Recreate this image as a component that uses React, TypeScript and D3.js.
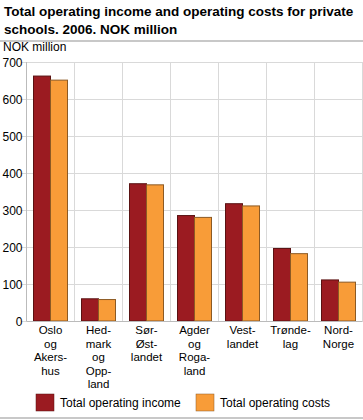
import React from "react";
import * as d3 from "d3";

const categories = [
  ["Oslo", "og", "Akers-", "hus"],
  ["Hed-", "mark", "og", "Opp-", "land"],
  ["Sør-", "Øst-", "landet"],
  ["Agder", "og", "Roga-", "land"],
  ["Vest-", "landet"],
  ["Trønde-", "lag"],
  ["Nord-", "Norge"],
];
const income = [662, 60, 371, 285, 317, 196, 111];
const costs = [651, 58, 368, 280, 311, 182, 105];
const yTicks = [0, 100, 200, 300, 400, 500, 600, 700];
const seriesNames = ["Total operating income", "Total operating costs"];
const colors = ["#9b1b21", "#f89c38"];
const strokes = ["#5a1212", "#8c5a24"];

export default function App() {
  const W = 363, H = 420;
  const left = 26.5, right = 362.5, top = 62, bottom = 321;
  const x = d3.scaleBand<number>().domain(d3.range(categories.length)).range([left, right]);
  const y = d3.scaleLinear().domain([0, 700]).range([bottom, top]);
  const bw = 17;
  const font = "'Liberation Sans', Arial, sans-serif";
  return (
    <svg width={W} height={H} style={{ position: "absolute", left: 0, top: 0 }} fontFamily={font}>
      <text x={4} y={16} fontSize={13.5} fontWeight="bold" fill="#000">
        Total operating income and operating costs for private
      </text>
      <text x={4} y={34} fontSize={13.5} fontWeight="bold" fill="#000">
        schools. 2006. NOK million
      </text>
      <rect x={0} y={40} width={W} height={2} fill="#c8c8c8" />
      <text x={3} y={51} fontSize={12} fill="#000">NOK million</text>
      {yTicks.map((t) => (
        <g key={t}>
          <line x1={left - 5} x2={right} y1={Math.round(y(t)) + 0.5} y2={Math.round(y(t)) + 0.5} stroke="#d9d9d9" strokeWidth={1} />
          <text x={left - 4} y={y(t) + 4.5} fontSize={12} textAnchor="end" fill="#000">{t}</text>
        </g>
      ))}
      {d3.range(categories.length + 1).map((i) => {
        const xx = i < categories.length ? (x(i) as number) : right;
        return <line key={i} x1={xx} x2={xx} y1={top} y2={bottom} stroke="#d9d9d9" strokeWidth={1} />;
      })}
      <line x1={left} x2={left} y1={top} y2={bottom} stroke="#bbbbbb" />
      {categories.map((c, i) => {
        const cx = (x(i) as number) + x.bandwidth() / 2;
        return (
          <g key={i}>
            {[income[i], costs[i]].map((v, s) => (
              <rect key={s} x={cx - bw + s * bw} y={y(v)} width={bw} height={bottom - y(v)}
                fill={colors[s]} stroke={strokes[s]} strokeWidth={1} />
            ))}
            {c.map((line, k) => (
              <text key={k} x={cx} y={334 + k * 13.5} fontSize={11.5} textAnchor="middle" fill="#000">{line}</text>
            ))}
          </g>
        );
      })}
      <line x1={left} x2={right} y1={bottom + 0.5} y2={bottom + 0.5} stroke="#bbbbbb" />
      {seriesNames.map((n, s) => {
        const lx = s === 0 ? 36 : 196;
        return (
          <g key={n}>
            <rect x={lx} y={394} width={18} height={17} fill={colors[s]} stroke={strokes[s]} strokeWidth={0.5} />
            <text x={lx + 24} y={407} fontSize={12} fill="#000">{n}</text>
          </g>
        );
      })}
      <rect x={0} y={417} width={W} height={2} fill="#c8c8c8" />
    </svg>
  );
}
